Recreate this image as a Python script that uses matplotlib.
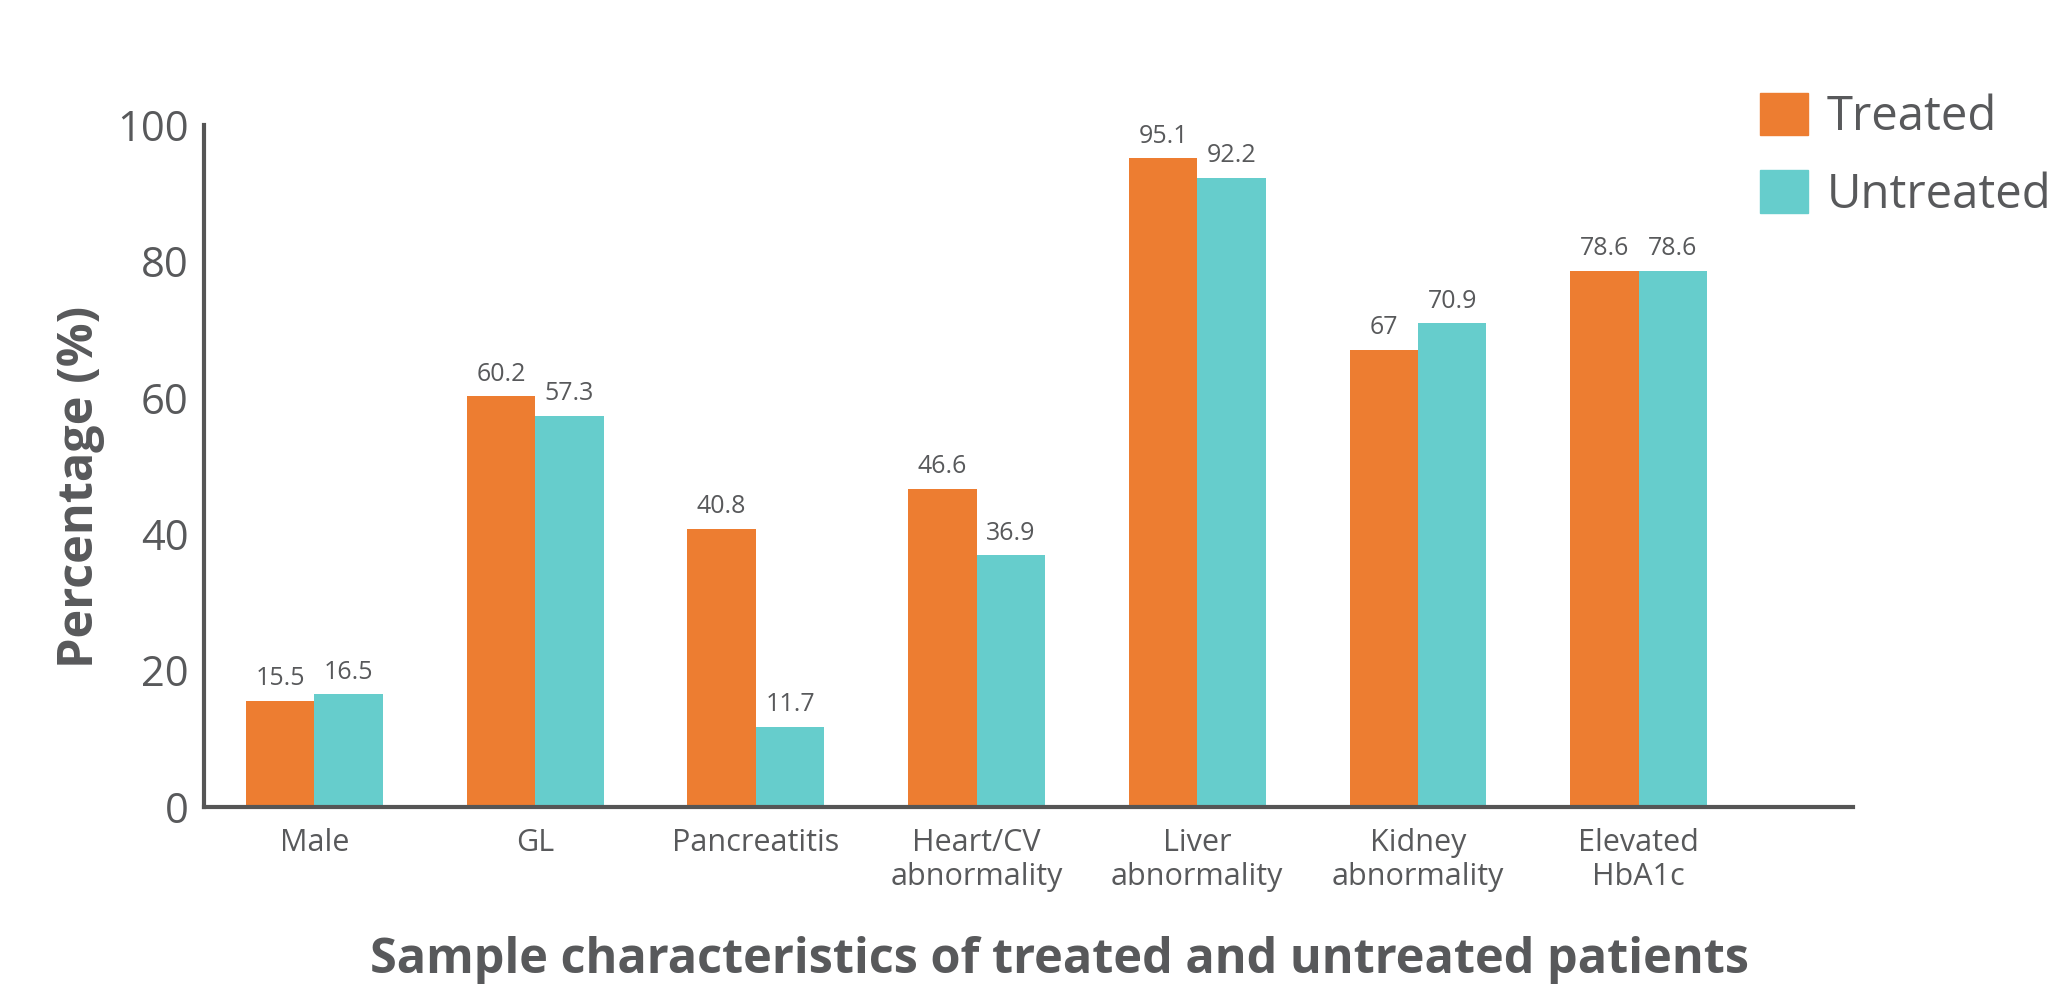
import numpy as np
import matplotlib as mpl
import matplotlib.pyplot as plt
from matplotlib.patches import Patch

plt.rcParams['font.family'] = ['Open Sans', 'DejaVu Sans']

# datos
categories = ['Male', 'GL', 'Pancreatitis', 'Heart/CV\nabnormality', 'Liver\nabnormality',
              'Kidney\nabnormality', 'Elevated\nHbA1c']
treated = [15.5, 60.2, 40.8, 46.6, 95.1, 67, 78.6]
untreated = [16.5, 57.3, 11.7, 36.9, 92.2, 70.9, 78.6]
series_names = ['Treated', 'Untreated']
yticks = [0, 20, 40, 60, 80, 100]

orange = '#ED7D31'
teal = '#66CDCC'
gray = '#58595B'

fig = plt.figure(figsize=(20.61, 9.84), dpi=100)
ax = fig.add_axes([0.099, 0.180, 0.800, 0.693])

x = np.arange(len(categories))
w = 0.31
b1 = ax.bar(x - w / 2, treated, w, color=orange)
b2 = ax.bar(x + w / 2, untreated, w, color=teal)

# etiquetas de valor sobre cada barra
for bars, vals in ((b1, treated), (b2, untreated)):
    for rect, v in zip(bars, vals):
        ax.annotate(f'{v:g}', (rect.get_x() + rect.get_width() / 2, v),
                    xytext=(0, 7), textcoords='offset points',
                    ha='center', va='bottom', fontsize=18, color=gray)

ax.set_xlim(-0.5, 6.97)
ax.set_ylim(0, 100)
ax.set_yticks(yticks)
ax.set_xticks(x)
ax.set_xticklabels(categories, fontsize=22, color=gray, linespacing=1.2)
ax.tick_params(axis='y', length=0, pad=11, labelsize=30, labelcolor=gray)
ax.tick_params(axis='x', length=0, pad=15)

for side in ('top', 'right'):
    ax.spines[side].set_visible(False)
for side in ('left', 'bottom'):
    ax.spines[side].set_linewidth(3)
    ax.spines[side].set_color('#555555')

ax.set_ylabel('Percentage (%)', fontsize=35, fontweight='bold', color=gray)
ax.yaxis.set_label_coords(-0.06, 0.47)
fig.text(0.514, 0.024, 'Sample characteristics of treated and untreated patients',
         ha='center', va='center', fontsize=35, fontweight='bold', color=gray)

handles = [Patch(color=orange), Patch(color=teal)]
leg = fig.legend(handles, series_names, loc='upper left', bbox_to_anchor=(0.845, 0.925),
                 frameon=False, fontsize=34, handlelength=1.0, handleheight=1.0,
                 handletextpad=0.4, labelspacing=0.62, borderaxespad=0)
for t in leg.get_texts():
    t.set_color(gray)

fig.savefig('out.png', dpi=100)
